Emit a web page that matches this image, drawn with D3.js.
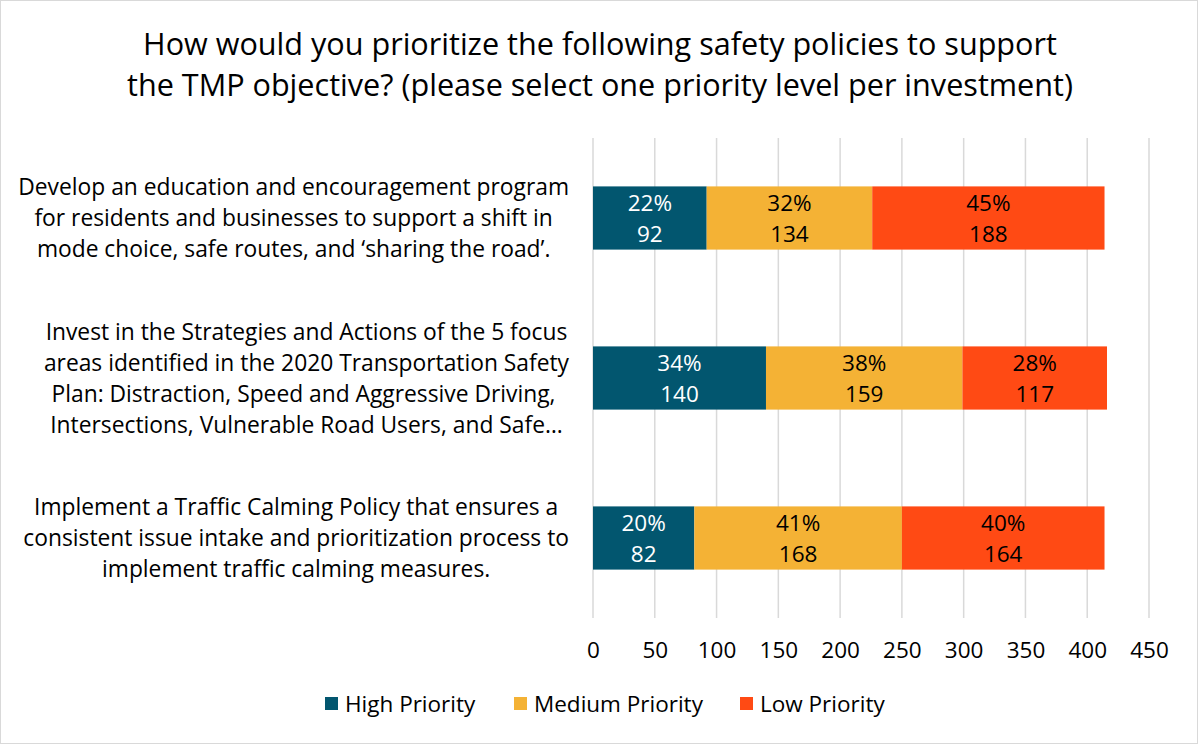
<!DOCTYPE html>
<html>
<head>
<meta charset="utf-8">
<script src="https://cdn.jsdelivr.net/npm/d3@7"></script>
<style>
  html, body { margin: 0; padding: 0; background: #fff; }
  svg { display: block; font-family: "Open Sans", "Noto Sans", sans-serif; }
</style>
</head>
<body>
<svg id="chart" width="1198" height="744"></svg>
<script>
// Survey question and responses
const titleLines = [
  "How would you prioritize the following safety policies to support",
  "the TMP objective? (please select one priority level per investment)"
];
const categories = [
  ["Develop an education and encouragement program",
   "for residents and businesses to support a shift in",
   "mode choice, safe routes, and \u2018sharing the road\u2019."],
  ["Invest in the Strategies and Actions of the 5 focus",
   "areas identified in the 2020 Transportation Safety",
   "Plan: Distraction, Speed and Aggressive Driving,\u00a0",
   "Intersections, Vulnerable Road Users, and Safe\u2026"],
  ["Implement a Traffic Calming Policy that ensures a",
   "consistent issue intake and prioritization process to",
   "implement traffic calming measures."]
];
const seriesNames = ["High Priority", "Medium Priority", "Low Priority"];
const highValues = [92, 140, 82];
const mediumValues = [134, 159, 168];
const lowValues = [188, 117, 164];
const highPct = ["22%", "34%", "20%"];
const mediumPct = ["32%", "38%", "41%"];
const lowPct = ["45%", "28%", "40%"];
const xTicks = [0, 50, 100, 150, 200, 250, 300, 350, 400, 450];

const colors = ["#02566f", "#f4b235", "#ff4a14"];
const labelColors = ["#ffffff", "#000000", "#000000"];

const svg = d3.select("#chart");
const W = 1198, H = 744;
const FS = 22.5;

// chart border
svg.append("rect").attr("x", 0.5).attr("y", 0.5).attr("width", W - 1).attr("height", H - 1)
  .attr("fill", "#fff").attr("stroke", "#d9d9d9");

// title
svg.append("g").selectAll("text").data(titleLines).join("text")
  .attr("x", 600).attr("y", (d, i) => 55 + i * 41)
  .attr("text-anchor", "middle").attr("font-size", 30.6).attr("fill", "#000")
  .text(d => d);

const plot = { left: 593, right: 1149, top: 138, bottom: 618 };

const x = d3.scaleLinear().domain([0, 450]).range([plot.left, plot.right]);
const y = d3.scaleBand().domain(d3.range(categories.length))
  .range([plot.top, plot.bottom]).paddingInner(0.605).paddingOuter(0.3025);

// gridlines
svg.append("g").selectAll("line").data(xTicks).join("line")
  .attr("x1", d => x(d)).attr("x2", d => x(d))
  .attr("y1", plot.top).attr("y2", plot.bottom)
  .attr("stroke", "#d9d9d9").attr("stroke-width", 1.5);

// stacked data
const rows = categories.map((c, i) => ({
  idx: i, values: [highValues[i], mediumValues[i], lowValues[i]],
  pcts: [highPct[i], mediumPct[i], lowPct[i]]
}));
const stack = d3.stack().keys([0, 1, 2]).value((d, k) => d.values[k]);
const layers = stack(rows);

const segG = svg.append("g");
layers.forEach((layer, k) => {
  const g = segG.append("g");
  g.selectAll("rect").data(layer).join("rect")
    .attr("x", d => x(d[0])).attr("width", d => x(d[1]) - x(d[0]))
    .attr("y", d => y(d.data.idx)).attr("height", y.bandwidth())
    .attr("fill", colors[k]);
  const lbl = g.selectAll("text").data(layer).join("text")
    .attr("text-anchor", "middle").attr("font-size", FS)
    .attr("fill", labelColors[k]);
  lbl.append("tspan")
    .attr("x", d => (x(d[0]) + x(d[1])) / 2)
    .attr("y", d => y(d.data.idx) + y.bandwidth() / 2 - 7)
    .text(d => d.data.pcts[k]);
  lbl.append("tspan")
    .attr("x", d => (x(d[0]) + x(d[1])) / 2)
    .attr("y", d => y(d.data.idx) + y.bandwidth() / 2 + 24)
    .text(d => d.data.values[k]);
});

// x axis tick labels
const xAxis = d3.axisBottom(x).tickValues(xTicks).tickSize(0).tickPadding(0);
const xg = svg.append("g").attr("transform", `translate(0, ${plot.bottom + 40})`).call(xAxis);
xg.select(".domain").remove();
xg.selectAll("text").attr("font-size", FS).attr("fill", "#000")
  .attr("font-family", "'Open Sans', 'Noto Sans', sans-serif").attr("dy", 0);

// category labels, block right-aligned to the plot, lines centred in the block
const catG = svg.append("g").attr("font-size", 22.8).attr("fill", "#000");
categories.forEach((lines, i) => {
  const cy = y(i) + y.bandwidth() / 2;
  const lh = 31;
  const t = catG.append("text").attr("text-anchor", "middle");
  const spans = lines.map((ln, j) => t.append("tspan")
    .attr("y", cy + (j - (lines.length - 1) / 2) * lh + 8).text(ln));
  const maxW = d3.max(spans, s => s.node().getComputedTextLength());
  const cx = 569 - maxW / 2;
  spans.forEach(s => s.attr("x", cx));
});

// legend
const legendItems = [
  { name: seriesNames[0], x: 325 },
  { name: seriesNames[1], x: 514 },
  { name: seriesNames[2], x: 740 }
];
const lg = svg.append("g");
legendItems.forEach((it, k) => {
  lg.append("rect").attr("x", it.x).attr("y", 697).attr("width", 13).attr("height", 13)
    .attr("fill", colors[k]);
  lg.append("text").attr("x", it.x + 20).attr("y", 712)
    .attr("font-size", FS).attr("fill", "#000").text(it.name);
});
</script>
</body>
</html>
